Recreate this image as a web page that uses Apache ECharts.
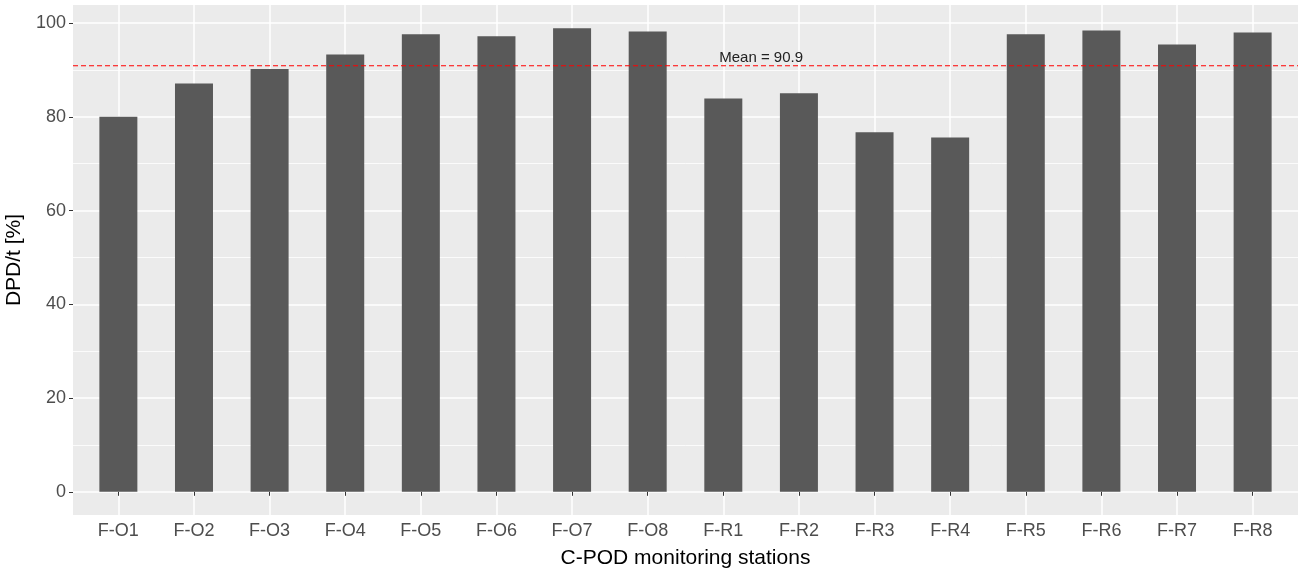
<!DOCTYPE html>
<html>
<head>
<meta charset="utf-8">
<script src="https://cdn.jsdelivr.net/npm/echarts@6/dist/echarts.min.js"></script>
<style>
  html, body { margin: 0; padding: 0; background: #fff; }
  #main { width: 1302px; height: 572px; }
</style>
</head>
<body>
<div id="main"></div>
<script>
// C-POD stations and detection rate (DPD/t, %)
const stations = ["F-O1", "F-O2", "F-O3", "F-O4", "F-O5", "F-O6", "F-O7", "F-O8",
                  "F-R1", "F-R2", "F-R3", "F-R4", "F-R5", "F-R6", "F-R7", "F-R8"];
const dpdValues = [80.0, 87.1, 90.2, 93.3, 97.6, 97.2, 98.9, 98.2,
                   83.9, 85.0, 76.7, 75.6, 97.6, 98.4, 95.4, 98.0];
const meanValue = 90.9;
const yTicks = [0, 20, 40, 60, 80, 100];
const yMinorTicks = [10, 30, 50, 70, 90];

const xPositions = stations.map((s, i) => i + 1);
const xMin = 0.4;
const xMax = 16.6;

let chart = echarts.init(document.getElementById("main"));

let option = {
  animation: false,
  grid: {
    left: 73,
    right: 4,
    top: 5,
    bottom: 57,
    containLabel: false,
    outerBoundsMode: "none",
    show: true,
    backgroundColor: "#EBEBEB",
    borderWidth: 0,
  },
  xAxis: {
    type: "value",
    min: xMin,
    max: xMax,
    name: "C-POD monitoring stations",
    nameLocation: "middle",
    nameGap: 33,
    nameTextStyle: { fontSize: 21, color: "#000", fontFamily: "Liberation Sans" },
    axisLine: { show: false },
    axisTick: { show: true, length: 4, customValues: xPositions, lineStyle: { color: "#333" } },
    axisLabel: {
      customValues: xPositions,
      formatter: (v) => stations[Math.round(v) - 1],
      fontSize: 18,
      color: "#4D4D4D",
      margin: 7,
      fontFamily: "Liberation Sans",
    },
    splitLine: { show: true, lineStyle: { color: "#fff", width: 1.5 } },
  },
  yAxis: [
    {
      type: "value",
      min: -4.95,
      max: 103.85,
      name: "DPD/t [%]",
      nameLocation: "middle",
      nameGap: 45,
      nameTextStyle: { fontSize: 21, color: "#000", fontFamily: "Liberation Sans" },
      axisLine: { show: false },
      axisTick: { show: true, length: 4, customValues: yTicks, lineStyle: { color: "#333" } },
      axisLabel: {
        customValues: yTicks,
        fontSize: 18,
        color: "#4D4D4D",
        margin: 7,
        fontFamily: "Liberation Sans",
      },
      splitLine: { show: true, lineStyle: { color: "#fff", width: 1.5 } },
    },
    {
      // minor grid lines only
      type: "value",
      min: -4.95,
      max: 103.85,
      axisLine: { show: false },
      axisTick: { show: false, customValues: yMinorTicks },
      axisLabel: { show: false, customValues: yMinorTicks },
      splitLine: { show: true, lineStyle: { color: "#fff", width: 0.8 } },
    },
  ],
  series: [
    {
      type: "bar",
      barWidth: 38,
      itemStyle: { color: "#595959" },
      data: stations.map((s, i) => [i + 1, dpdValues[i]]),
      markPoint: {
        silent: true,
        symbol: "circle",
        symbolSize: 0,
        label: {
          show: true,
          position: "inside",
          formatter: "Mean = " + meanValue,
          fontSize: 15,
          color: "#222",
          fontFamily: "Liberation Sans",
        },
        data: [{ coord: [9.5, 92.5] }],
      },
    },
    {
      // mean reference line across the whole panel
      type: "line",
      silent: true,
      showSymbol: false,
      symbol: "none",
      z: 5,
      lineStyle: { color: "#FF0000", type: [5, 3], width: 1.1 },
      data: [[xMin, meanValue], [xMax, meanValue]],
    },
  ],
};

option && chart.setOption(option);
</script>
</body>
</html>
